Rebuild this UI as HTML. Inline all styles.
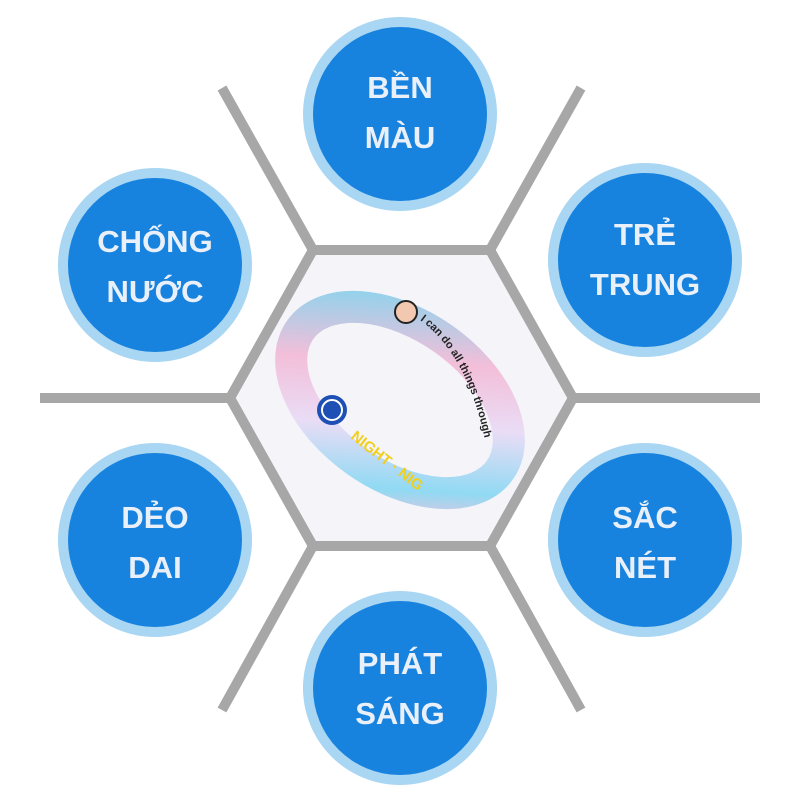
<!DOCTYPE html>
<html><head><meta charset="utf-8"><style>
html,body{margin:0;padding:0;background:#fff;width:800px;height:800px;overflow:hidden}
svg{display:block}
text{font-family:"Liberation Sans",sans-serif;font-weight:bold}
</style></head><body>
<svg width="800" height="800" viewBox="0 0 800 800" xmlns="http://www.w3.org/2000/svg">
<defs>
<linearGradient id="bg1" x1="0" y1="0" x2="1" y2="1">
<stop offset="0" stop-color="#5fd3f0"/><stop offset="0.35" stop-color="#f3b5d3"/><stop offset="0.6" stop-color="#e8d8f5"/><stop offset="0.85" stop-color="#7fd5f2"/><stop offset="1" stop-color="#f7b7d6"/>
</linearGradient>
</defs>
<polygon points="313,250 490,250 573,398 490,546 313,546 230,398" fill="#f4f4f9"/>
<g stroke="#a7a7a7" stroke-width="10" fill="none" stroke-linecap="butt">
<polygon points="313,250 490,250 573,398 490,546 313,546 230,398" stroke-linejoin="miter"/>
<line x1="313" y1="250" x2="222" y2="88"/>
<line x1="490" y1="250" x2="581" y2="88"/>
<line x1="313" y1="546" x2="222" y2="710"/>
<line x1="490" y1="546" x2="581" y2="710"/>
<line x1="230" y1="398" x2="40" y2="398"/>
<line x1="573" y1="398" x2="760" y2="398"/>
</g>
<g transform="rotate(35 400 400)">
<ellipse cx="400" cy="400" rx="122" ry="75" fill="none" stroke="url(#bg1)" stroke-width="32" opacity="0.85"/>
</g>
<circle cx="332" cy="410" r="15" fill="#1e4fb5"/>
<circle cx="332" cy="410" r="10" fill="none" stroke="#fff" stroke-width="2"/>
<circle cx="406" cy="312" r="11" fill="#f2c9b0" stroke="#222" stroke-width="2"/>
<path id="tp" d="M420 320 Q475 360 490 470" fill="none"/>
<text font-family="Liberation Serif" font-weight="normal" font-size="11" fill="#222"><textPath href="#tp">I can do all things through</textPath></text>
<text x="350" y="438" font-size="15" fill="#f2cf1a" transform="rotate(38 350 438)">NIGHT · NIG</text>
<g>
<circle cx="400" cy="114" r="97" fill="#a9d6f2"/><circle cx="400" cy="114" r="87" fill="#1783de"/>
<circle cx="155" cy="265" r="97" fill="#a9d6f2"/><circle cx="155" cy="265" r="87" fill="#1783de"/>
<circle cx="645" cy="260" r="97" fill="#a9d6f2"/><circle cx="645" cy="260" r="87" fill="#1783de"/>
<circle cx="155" cy="540" r="97" fill="#a9d6f2"/><circle cx="155" cy="540" r="87" fill="#1783de"/>
<circle cx="645" cy="540" r="97" fill="#a9d6f2"/><circle cx="645" cy="540" r="87" fill="#1783de"/>
<circle cx="400" cy="688" r="97" fill="#a9d6f2"/><circle cx="400" cy="688" r="87" fill="#1783de"/>
</g>
<g fill="#eaf0fa" font-size="31" text-anchor="middle">
<text x="400" y="98">BỀN</text><text x="400" y="148">MÀU</text>
<text x="155" y="252">CHỐNG</text><text x="155" y="302">NƯỚC</text>
<text x="645" y="245">TRẺ</text><text x="645" y="295">TRUNG</text>
<text x="155" y="528">DẺO</text><text x="155" y="578">DAI</text>
<text x="645" y="528">SẮC</text><text x="645" y="578">NÉT</text>
<text x="400" y="674">PHÁT</text><text x="400" y="724">SÁNG</text>
</g>
</svg>
</body></html>
